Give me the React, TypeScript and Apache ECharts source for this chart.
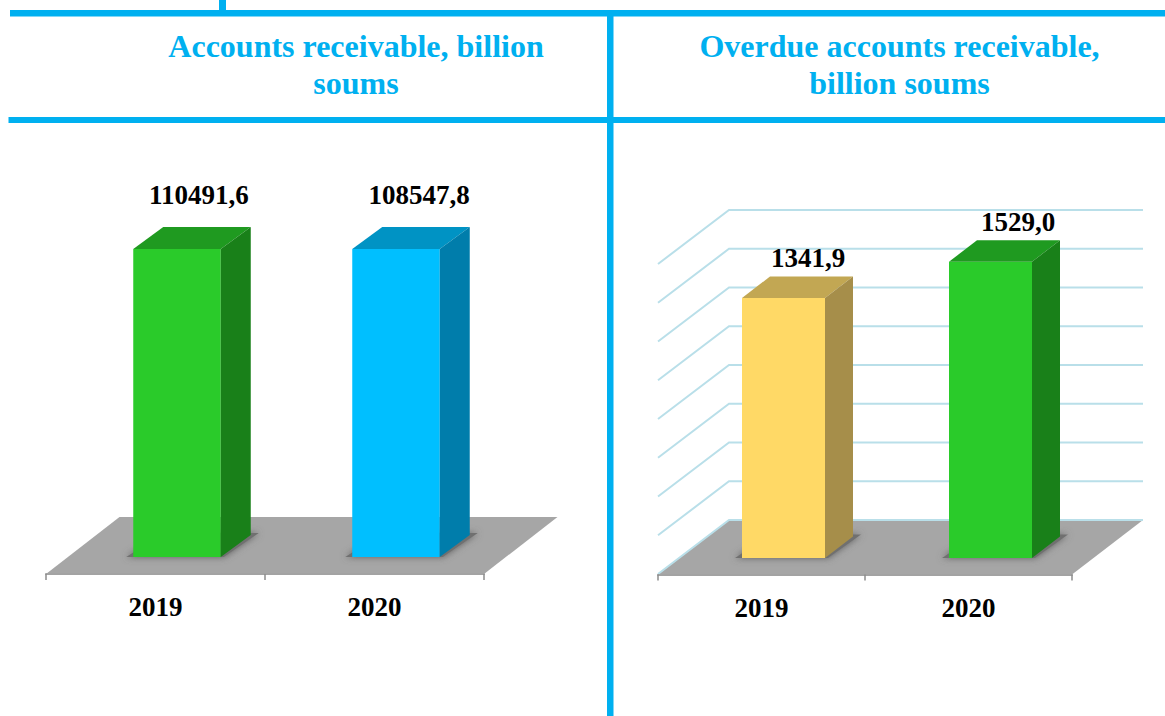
import React, { useEffect, useRef } from "react";
import * as echarts from "echarts";

const years = ["2019", "2020"];
const leftTitle = "Accounts receivable, billion\nsoums";
const rightTitle = "Overdue accounts receivable,\nbillion soums";
// Printed values
const leftValues = [110491.6, 108547.8];
const rightValues = [1341.9, 1529.0];
// The reference draws both left bars at the same height, despite their different labels
const leftDrawnHeights = [110491.6, 110491.6];
const rightGridValues = [0, 200, 400, 600, 800, 1000, 1200, 1400, 1600];

const SERIF = "'Liberation Serif', 'Times New Roman', serif";
const BLUE = "#00b0f0";
const LABEL_SIZE = 27;

type Face = { front: string; top: string; side: string };
const GREEN: Face = { front: "#2acb2a", top: "#1f9a20", side: "#198019" };
const CYAN: Face = { front: "#00bfff", top: "#0093c4", side: "#007dab" };
const GOLD: Face = { front: "#ffd966", top: "#c2a753", side: "#a68e4a" };

function floorSeries(idx: number, toFront: number, toBack: number, dx: number) {
  return {
    type: "custom",
    xAxisIndex: idx,
    yAxisIndex: idx,
    silent: true,
    z: 1,
    data: [[0, 0]],
    encode: { x: 0, y: 1 },
    renderItem: (_p: any, api: any) => {
      const c0 = api.coord([0, 0]);
      const c1 = api.coord([1, 0]);
      const band = c1[0] - c0[0];
      const l = c0[0] - band / 2;
      const r = c1[0] + band / 2;
      const fy = c0[1] + toFront;
      const by = c0[1] - toBack;
      return {
        type: "polygon",
        shape: { points: [[l, fy], [r, fy], [r + dx, by], [l + dx, by]] },
        style: { fill: "#a6a6a6" },
      };
    },
  };
}

function wallSeries(idx: number, values: number[], toBack: number, dx: number, dy: number) {
  return {
    type: "custom",
    xAxisIndex: idx,
    yAxisIndex: idx,
    silent: true,
    z: 1,
    data: values.map((v) => [0, v]),
    encode: { x: 0, y: 1 },
    renderItem: (_p: any, api: any) => {
      const c0 = api.coord([0, api.value(1)]);
      const c1 = api.coord([1, api.value(1)]);
      const band = c1[0] - c0[0];
      const l = c0[0] - band / 2;
      const r = c1[0] + band / 2;
      const y = c0[1] - toBack;
      return {
        type: "polyline",
        shape: { points: [[l, y + dy], [l + dx, y], [r + dx, y]] },
        style: { stroke: "#b9dfe9", lineWidth: 2, fill: "none" },
      };
    },
  };
}

function barSeries(
  idx: number,
  heights: number[],
  labels: number[],
  faces: Face[],
  o: { shift: number; width: number; ddx: number; ddy: number; labelDx: number[]; labelUp: number },
) {
  return {
    type: "custom",
    xAxisIndex: idx,
    yAxisIndex: idx,
    silent: true,
    z: 3,
    data: heights.map((h, i) => [i, h]),
    encode: { x: 0, y: 1 },
    renderItem: (p: any, api: any) => {
      const i = p.dataIndex;
      const top = api.coord([i, api.value(1)]);
      const base = api.coord([i, 0]);
      const x0 = top[0] + o.shift - o.width / 2;
      const x1 = x0 + o.width;
      const { ddx, ddy } = o;
      const f = faces[i];
      return {
        type: "group",
        children: [
          {
            type: "polygon",
            shape: {
              points: [
                [x0 - 7, base[1]],
                [x1 + 3, base[1]],
                [x1 + ddx + 8, base[1] - ddy - 2],
                [x0 + ddx, base[1] - ddy - 2],
              ],
            },
            style: { fill: "#707070", shadowBlur: 7, shadowColor: "#5f5f5f" },
          },
          {
            type: "rect",
            shape: { x: x0, y: top[1], width: o.width, height: base[1] - top[1] },
            style: { fill: f.front },
          },
          {
            type: "polygon",
            shape: { points: [[x0, top[1]], [x1, top[1]], [x1 + ddx, top[1] - ddy], [x0 + ddx, top[1] - ddy]] },
            style: { fill: f.top },
          },
          {
            type: "polygon",
            shape: {
              points: [[x1, top[1]], [x1 + ddx, top[1] - ddy], [x1 + ddx, base[1] - ddy], [x1, base[1]]],
            },
            style: { fill: f.side },
          },
          {
            type: "text",
            style: {
              text: labels[i].toFixed(1).replace(".", ","),
              x: top[0] + o.shift + o.labelDx[i],
              y: top[1] - ddy - o.labelUp,
              align: "center",
              verticalAlign: "middle",
              fill: "#000000",
              font: `bold ${LABEL_SIZE}px ${SERIF}`,
            },
          },
        ],
      };
    },
  };
}

function xAxis(gridIndex: number) {
  return {
    type: "category",
    gridIndex,
    data: years,
    z: 2,
    axisLine: { show: true, onZero: false, lineStyle: { color: "#a3a3a3", width: 2 } },
    axisTick: { show: true, length: 6, lineStyle: { color: "#8c8c8c", width: 1.5 } },
    axisLabel: {
      color: "#000000",
      fontFamily: SERIF,
      fontWeight: "bold",
      fontSize: LABEL_SIZE,
      margin: 19.5,
    },
    splitLine: { show: false },
  };
}

function rule(x: number, y: number, width: number, height: number) {
  return { type: "rect", shape: { x, y, width, height }, style: { fill: BLUE } };
}

function titleOf(text: string, x: number) {
  return {
    text,
    left: x,
    top: 22,
    textAlign: "center",
    textStyle: { color: BLUE, fontFamily: SERIF, fontWeight: "bold", fontSize: 32, lineHeight: 37 },
  };
}

export default function App() {
  const ref = useRef<HTMLDivElement>(null);
  useEffect(() => {
    const chart = echarts.init(ref.current!, undefined, { renderer: "svg" });
    chart.setOption({
      animation: false,
      backgroundColor: "#ffffff",
      title: [titleOf(leftTitle, 351), titleOf(rightTitle, 894.5)],
      grid: [
        { left: 46, width: 438, top: 222.5, height: 351.5 },
        { left: 658, width: 414, top: 248, height: 326.5 },
      ],
      xAxis: [xAxis(0), xAxis(1)],
      yAxis: [
        { type: "value", gridIndex: 0, min: -6100, max: 120000, show: false },
        { type: "value", gridIndex: 1, min: -85, max: 1600, show: false },
      ],
      graphic: [
        rule(219, 0, 7, 11),
        rule(10, 10, 1155, 6.5),
        rule(8.5, 117, 1156.5, 6),
        rule(607, 16, 6.5, 700),
      ],
      series: [
        floorSeries(0, 17, 40, 73.5),
        barSeries(0, leftDrawnHeights, leftValues, [GREEN, CYAN], {
          shift: 21.5,
          width: 87.5,
          ddx: 30,
          ddy: 22,
          labelDx: [22, 23],
          labelUp: 32,
        }),
        floorSeries(1, 16.5, 38, 71),
        wallSeries(1, rightGridValues, 38, 71, 54),
        barSeries(1, rightValues, rightValues, [GOLD, GREEN], {
          shift: 22,
          width: 83,
          ddx: 28,
          ddy: 21.5,
          labelDx: [24.5, 27.5],
          labelUp: 18.5,
        }),
      ],
    });
    return () => chart.dispose();
  }, []);
  return <div ref={ref} style={{ position: "absolute", left: 0, top: 0, width: 1165, height: 716 }} />;
}
